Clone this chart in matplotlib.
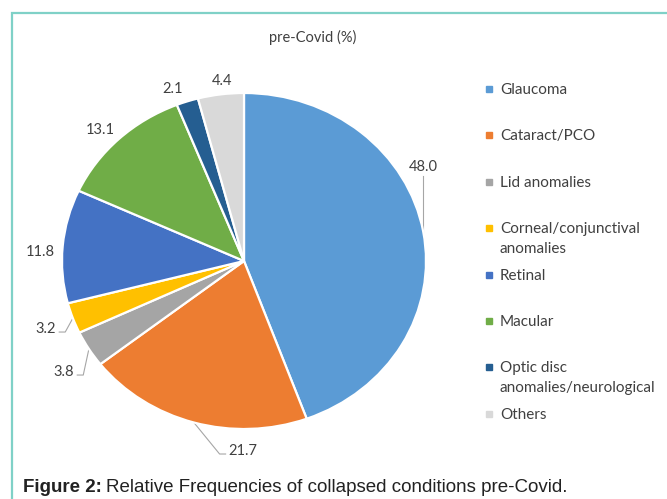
import numpy as np
import matplotlib.pyplot as plt
from matplotlib.patches import Rectangle

categories = ['Glaucoma', 'Cataract/PCO', 'Lid anomalies',
              'Corneal/conjunctival\nanomalies', 'Retinal', 'Macular',
              'Optic disc\nanomalies/neurological', 'Others']
values = [48.0, 21.7, 3.8, 3.2, 11.8, 13.1, 2.1, 4.4]
value_labels = ['48.0', '21.7', '3.8', '3.2', '11.8', '13.1', '2.1', '4.4']
colors = ['#5b9bd5', '#ed7d31', '#a5a5a5', '#ffc000',
          '#4472c4', '#70ad47', '#255e91', '#d9d9d9']

# where each value label sits, in pie radius units, and if it gets a leader line
label_xy = [(0.984, 0.56), (-0.005, -1.131), (-0.989, -0.661), (-1.088, -0.405),
            (-1.121, 0.054), (-0.791, 0.78), (-0.39, 1.024), (-0.121, 1.071)]
leader = [True, True, True, True, False, False, False, False]

W, H = 667, 499
fig = plt.figure(figsize=(6.67, 4.99), dpi=100)
fig.patch.set_facecolor('white')

# overlay axes in pixel coordinates (origin top-left)
ov = fig.add_axes([0, 0, 1, 1])
ov.set_xlim(0, W)
ov.set_ylim(H, 0)
ov.axis('off')

# pie axes, stretched a little like the original image
cx, cy, rx, ry = 244, 261, 182, 168
ax = fig.add_axes([(cx - rx) / W, 1 - (cy + ry) / H, 2 * rx / W, 2 * ry / H])
wedges, _ = ax.pie(values, colors=colors, startangle=90, counterclock=False,
                   wedgeprops=dict(edgecolor='white', linewidth=1.6))
ax.set_aspect('auto')
ax.set_xlim(-1, 1)
ax.set_ylim(-1, 1)

lab_font = dict(family='Lato', fontsize=10.5, color='#404040')

fig.canvas.draw()
rend = fig.canvas.get_renderer()

for w, lab, (lx, ly), has_line in zip(wedges, value_labels, label_xy, leader):
    tx, ty = cx + rx * lx, cy - ry * ly
    t = ov.text(tx, ty, lab, ha='center', va='center', **lab_font)
    if not has_line:
        continue
    mid = np.deg2rad((w.theta1 + w.theta2) / 2)
    ex, ey = cx + rx * np.cos(mid), cy - ry * np.sin(mid)
    bb = t.get_window_extent(rend)
    if abs(ex - tx) < 15:
        ov.plot([tx, tx], [ty + bb.height / 2 + 2, ey], color='#a6a6a6', lw=0.8)
    else:
        side = np.sign(ex - tx)
        ax_x = tx + side * (bb.width / 2 + 3)
        ov.plot([ax_x, ax_x + side * 6, ex], [ty + 3, ty + 3, ey],
                color='#a6a6a6', lw=0.8)

# legend
for i, (cat, c) in enumerate(zip(categories, colors)):
    y = 89 + i * 46.4
    ov.add_patch(Rectangle((486, y - 3), 6, 6, color=c))
    for j, line in enumerate(cat.split('\n')):
        ov.text(500, y + 5 + j * 19.5, line, ha='left', va='baseline',
                family='Lato', fontsize=11, color='#404040')

# title
ov.text(313, 37, 'pre-Covid (%)', ha='center', va='center',
        family='Lato', fontsize=10.5, color='#404040')

# frame
ov.plot([12, 12, W], [H, 13, 13], color='#7fd1c7', lw=1.6,
        solid_joinstyle='miter')

# caption
cap_y = 488
cap = ov.text(23, cap_y, 'Figure 2:', ha='left', va='center', family='Liberation Sans',
              fontsize=13.5, fontweight='bold', color='#222222')
bb = cap.get_window_extent(rend)
ov.text(23 + bb.width + 4, cap_y, 'Relative Frequencies of collapsed conditions pre-Covid.',
        ha='left', va='center', family='Liberation Sans', fontsize=13.5, color='#222222')

fig.savefig('out.png', dpi=100)
